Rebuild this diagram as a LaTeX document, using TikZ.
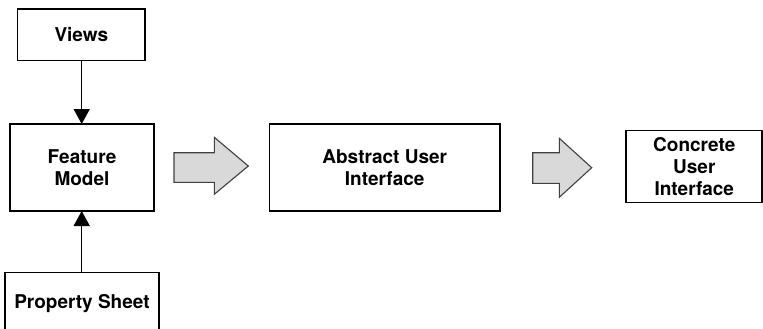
\documentclass[tikz,border=0pt]{standalone}
\usepackage{fontspec}
\setmainfont{TeX Gyre Heros}
\usetikzlibrary{arrows.meta}
\tikzset{
  box/.style={draw=black, line width=1.5pt},
  lbl/.style={font=\fontsize{19}{22}\selectfont\bfseries, align=center, inner sep=0pt},
  conn/.style={line width=1.5pt, -{Triangle[length=15pt,width=16pt]}},
  blockarrow/.style={draw=black!75, fill=black!15, line width=1.1pt, line join=miter}
}
\begin{document}
\begin{tikzpicture}[x=1pt,y=-1pt]
\useasboundingbox (0,0) rectangle (763,329);
\begin{scope}
\clip (0,0) rectangle (763,329);
% boxes
\draw[box] (17.7,9) rectangle (145,60.7);
\draw[box] (10,124) rectangle (154,211);
\draw[box] (5,272.7) rectangle (159,340);
\draw[box] (269.3,124) rectangle (500,211);
\draw[box] (626,130.7) rectangle (762,202.7);
% labels
\node[lbl] (views) at (81.3,34.9) {Views};
\node[lbl] (feature) at (82,167.5) {Feature\\Model};
\node[lbl] (prop) at (82,303.5) {Property Sheet};
\node[lbl] (abstract) at (384.7,167.5) {Abstract User\\Interface};
\node[lbl] (concrete) at (694.3,166.7) {Concrete\\User\\Interface};
% named anchors for connectors
\coordinate (viewsB) at (81.7,60.7);
\coordinate (featT) at (81.7,124);
\coordinate (featB) at (81.7,211);
\coordinate (propT) at (81.7,272.7);
\draw[conn] (viewsB) -- (featT);
\draw[conn] (propT) -- (featB);
% block arrows
\draw[blockarrow] (174,152.7) -- (214.3,152.7) -- (214.3,137.3) -- (248.3,166) -- (214.3,194.3) -- (214.3,182.3) -- (174,182.3) -- cycle;
\draw[blockarrow] (532.7,152.7) -- (559.3,152.7) -- (559.3,138.3) -- (591.7,167.7) -- (559.3,197.3) -- (559.3,183.3) -- (532.7,183.3) -- cycle;
\end{scope}
\end{tikzpicture}
\end{document}
